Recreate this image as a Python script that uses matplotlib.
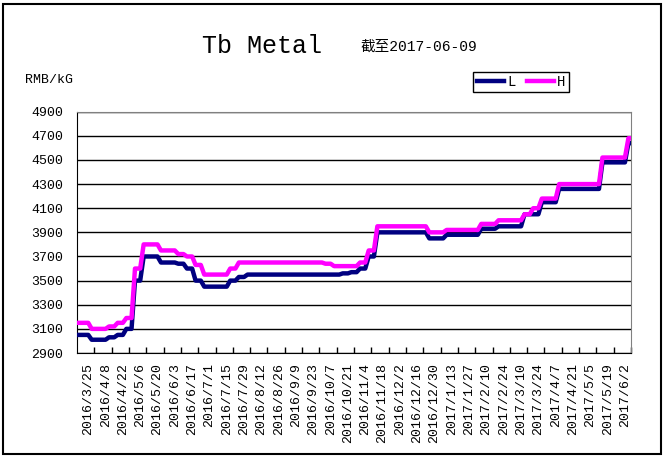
import matplotlib.pyplot as plt
import numpy as np
from matplotlib.lines import Line2D
from matplotlib.patches import Rectangle

# week-by-week prices, RMB/kG
low = [3050, 3050, 3010, 3010, 3030, 3050, 3100, 3500, 3700, 3700,
       3650, 3650, 3640, 3600, 3500, 3450, 3450, 3450, 3500, 3530,
       3550, 3550, 3550, 3550, 3550, 3550, 3550, 3550, 3550, 3550,
       3550, 3560, 3570, 3600, 3700, 3900, 3900, 3900, 3900, 3900,
       3900, 3850, 3850, 3880, 3880, 3880, 3880, 3930, 3930, 3950,
       3950, 3950, 4050, 4050, 4150, 4150, 4260, 4260, 4260, 4260,
       4260, 4480, 4480, 4480, 4640]
high = [3150, 3150, 3100, 3100, 3120, 3150, 3190, 3600, 3800, 3800,
        3750, 3750, 3720, 3700, 3630, 3550, 3550, 3550, 3600, 3650,
        3650, 3650, 3650, 3650, 3650, 3650, 3650, 3650, 3650, 3640,
        3620, 3620, 3620, 3650, 3750, 3950, 3950, 3950, 3950, 3950,
        3950, 3900, 3900, 3920, 3920, 3920, 3920, 3970, 3970, 4000,
        4000, 4000, 4050, 4100, 4180, 4180, 4300, 4300, 4300, 4300,
        4300, 4520, 4520, 4520, 4680]
dates = ["2016/3/25", "2016/4/8", "2016/4/22", "2016/5/6", "2016/5/20",
         "2016/6/3", "2016/6/17", "2016/7/1", "2016/7/15", "2016/7/29",
         "2016/8/12", "2016/8/26", "2016/9/9", "2016/9/23", "2016/10/7",
         "2016/10/21", "2016/11/4", "2016/11/18", "2016/12/2", "2016/12/16",
         "2016/12/30", "2017/1/13", "2017/1/27", "2017/2/10", "2017/2/24",
         "2017/3/10", "2017/3/24", "2017/4/7", "2017/4/21", "2017/5/5",
         "2017/5/19", "2017/6/2"]
yticks = np.arange(2900, 4901, 200)


def stepped(vals, ramp=0.2):
    # flat weeks joined by short slanted steps, like the daily sheet line
    xs, ys = [0], [vals[0]]
    for i in range(len(vals) - 1):
        xs += [i + 0.5 - ramp, i + 0.5 + ramp]
        ys += [vals[i], vals[i + 1]]
    xs.append(len(vals) - 1)
    ys.append(vals[-1])
    return xs, ys


mono = "Liberation Mono"
W, H = 663, 462
fig = plt.figure(figsize=(W / 100, H / 100), dpi=100)
fig.patches.append(Rectangle((3 / W, 1 - 454 / H), 658 / W, 450 / H,
                             transform=fig.transFigure, fill=False,
                             ec="black", lw=1.5))

ax = fig.add_axes([77 / W, 1 - 353 / H, 554 / W, 241.3 / H])
ax.plot(*stepped(low), color="#000080", lw=3.2, zorder=3,
        solid_joinstyle="round")
ax.plot(*stepped(high), color="#ff00ff", lw=3.2, zorder=4,
        solid_joinstyle="round")

ax.set_xlim(0, len(low) - 1)
ax.set_ylim(2900, 4900)
ax.set_yticks(yticks)
ax.set_yticklabels([str(v) for v in yticks], family=mono, fontsize=9.5)
ax.set_xticks(np.arange(2, 2 * len(dates) + 1, 2))
ax.set_xticklabels(dates, rotation=90, ha="right", va="top",
                   family=mono, fontsize=9.5)
ax.tick_params(axis="y", length=0, pad=10)
ax.tick_params(axis="x", direction="in", length=4, width=1, pad=7)
ax.grid(axis="y", color="black", lw=1)
ax.set_axisbelow(True)
for s in ("top", "right"):
    ax.spines[s].set_color("#808080")
for s in ("left", "bottom"):
    ax.spines[s].set_color("black")

fig.text(262 / W, 1 - 46 / H, "Tb Metal", ha="center", va="center",
         family=mono, fontsize=18)
fig.text(360 / W, 1 - 47 / H, "截至2017-06-09", ha="left", va="center",
         family=[mono, "Noto Sans CJK SC"], fontsize=10.5)
fig.text(25 / W, 1 - 80 / H, "RMB/kG", ha="left", va="center",
         family=mono, fontsize=9.5)

handles = [Line2D([], [], color="#000080", lw=3.2),
           Line2D([], [], color="#ff00ff", lw=3.2)]
leg = fig.legend(handles, ["L", "H"], ncol=2, loc="center",
                 bbox_to_anchor=(521 / W, 1 - 82 / H),
                 bbox_transform=fig.transFigure,
                 prop={"family": mono, "size": 10},
                 handlelength=2.0, handletextpad=0.2, columnspacing=0.8,
                 borderpad=0.25, fancybox=False, framealpha=1)
leg.get_frame().set_edgecolor("black")
leg.get_frame().set_linewidth(1)

fig.savefig("out.png", dpi=100)
